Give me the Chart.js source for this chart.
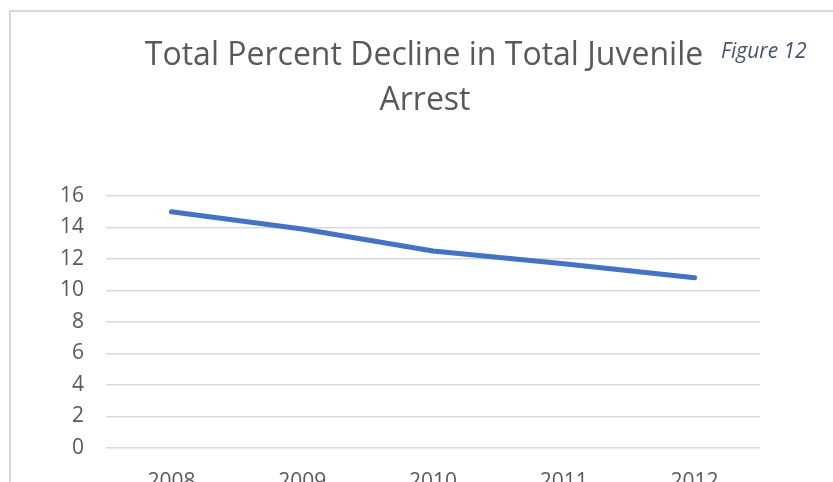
<!DOCTYPE html>
<html>
<head>
<meta charset="utf-8">
<script src="https://cdn.jsdelivr.net/npm/chart.js@4/dist/chart.umd.min.js"></script>
<style>
  html, body { margin: 0; padding: 0; overflow: hidden; background: #fff; }
  #wrap { width: 833px; height: 517px; }
</style>
</head>
<body>
<div id="wrap"><canvas id="myChart" width="833" height="517"></canvas></div>
<script>
// years and percent decline
var years = ["2008", "2009", "2010", "2011", "2012"];
var decline = [15.0, 13.9, 12.5, 11.7, 10.8];
var titleLines = ["Total Percent Decline in Total Juvenile", "Arrest"];
var figureLabel = "Figure 12";

var fontFam = "'Open Sans', 'Noto Sans', sans-serif";

// frame, title and figure tag drawn on the canvas
var decor = {
  id: "decor",
  beforeDraw: function (chart) {
    var c = chart.ctx;
    c.save();
    c.fillStyle = "#fff";
    c.fillRect(0, 0, chart.width, chart.height);
    c.strokeStyle = "#D9D9D9";
    c.lineWidth = 2;
    c.strokeRect(10, 11, 900, 600);
    c.restore();
  },
  afterDraw: function (chart) {
    var c = chart.ctx;
    c.save();
    c.fillStyle = "#595959";
    c.font = "32px " + fontFam;
    c.textAlign = "center";
    c.textBaseline = "alphabetic";
    c.fillText(titleLines[0], 424, 65);
    c.fillText(titleLines[1], 425, 110);
    c.fillStyle = "#44546A";
    c.font = "italic 21px " + fontFam;
    c.textAlign = "left";
    c.fillText(figureLabel, 721, 58);
    c.restore();
  }
};

var ctx = document.getElementById("myChart");
var myChart = new Chart(ctx, {
  type: "line",
  data: {
    labels: years,
    datasets: [
      {
        label: "Decline",
        data: decline,
        borderColor: "#4472C4",
        borderWidth: 5,
        borderCapStyle: "round",
        borderJoinStyle: "round",
        pointRadius: 0,
        tension: 0,
        fill: false,
      },
    ],
  },
  plugins: [decor],
  options: {
    responsive: false,
    animation: false,
    layout: {
      padding: { left: 10, right: 73, top: 196, bottom: 0 },
    },
    plugins: {
      legend: { display: false },
      title: { display: false },
      tooltip: { enabled: false },
    },
    scales: {
      x: {
        offset: true,
        grid: { display: false, drawTicks: false },
        border: { display: false },
        ticks: {
          color: "#595959",
          font: { size: 21, family: fontFam },
          padding: 22,
          maxRotation: 0,
        },
      },
      y: {
        min: 0,
        max: 16,
        ticks: {
          stepSize: 2,
          color: "#595959",
          font: { size: 21, family: fontFam },
          padding: 22,
        },
        grid: { color: "#D9D9D9", lineWidth: 1.5, drawTicks: false },
        border: { display: false },
        afterFit: function (scale) {
          scale.width = 96;
        },
      },
    },
  },
});
</script>
</body>
</html>
